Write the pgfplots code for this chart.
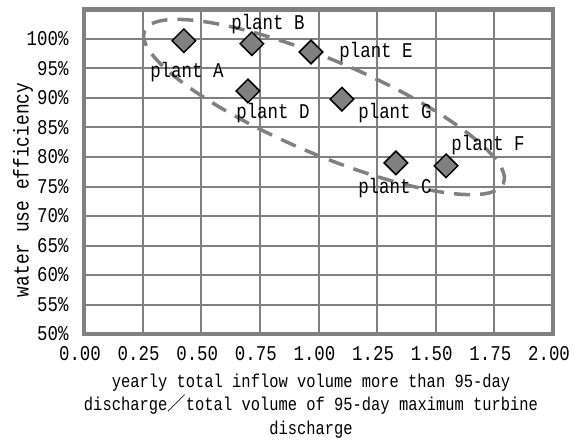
\documentclass[border=0pt]{standalone}
\usepackage{fontspec}
\setmainfont{Liberation Mono}[FakeStretch=0.83]
\newfontfamily\cjk{Noto Sans CJK JP}
\usepackage{pgfplots}
\pgfplotsset{compat=1.18}
\usepackage{pgfplotstable}
\definecolor{gridgray}{RGB}{128,128,128}
\definecolor{markgray}{RGB}{128,128,128}

\pgfplotstableread{
x     y     label      dx   dy
0.426 99.7  {plant A}  3    -31
0.716 99.2  {plant B}  16   20
0.699 91.2  {plant D}  25   -22
0.968 97.8  {plant E}  65   0
1.100 89.8  {plant G}  53   -14
1.330 79.0  {plant C}  -1   -25
1.544 78.5  {plant F}  42   21
}\plants

\begin{document}
\begin{tikzpicture}
\begin{axis}[
  scale only axis,
  width=469bp, height=324.5bp,
  xmin=0, xmax=2, ymin=50, ymax=105,
  xtick={0,0.25,...,2.0},
  ytick={50,55,...,100},
  /pgf/number format/assume math mode=true,
  xticklabel style={/pgf/number format/fixed, /pgf/number format/fixed zerofill, /pgf/number format/precision=2, yshift=-9bp, xshift=-4bp},
  yticklabel={\pgfmathprintnumber[fixed,precision=0]{\tick}\%},
  yticklabel style={xshift=-12bp},
  tick label style={font=\fontsize{21bp}{24bp}\selectfont},
  major tick length=0pt,
  grid=major,
  major grid style={draw=gridgray, line width=2bp},
  axis line style={draw=gridgray, line width=4.5bp},
  clip=false,
  xlabel={yearly total inflow volume more than 95-day\\discharge{\cjk ／}total volume of 95-day maximum turbine\\discharge},
  ylabel={water use efficiency},
  every axis x label/.style={at={(axis description cs:0.484,0)}, anchor=north, yshift=-36bp, align=center, font=\fontsize{18.6bp}{23.5bp}\selectfont},
  every axis y label/.style={at={(axis description cs:0,0.444)}, xshift=-61bp, rotate=90, anchor=center, font=\fontsize{21.5bp}{24bp}\selectfont},
]
\draw[draw=gridgray, line width=3.5bp, dash pattern=on 16bp off 10bp, rotate around={-23:(axis cs:1.0235,88.47)}]
  (axis cs:1.0235,88.47) ellipse [x radius=195bp, y radius=47bp];
\addplot[
  only marks,
  mark=square*,
  mark size=8.3bp,
  mark options={rotate=45, fill=markgray, draw=black, line width=1.5bp},
  point meta=explicit symbolic,
  nodes near coords,
  visualization depends on={\thisrow{dx} \as \labdx},
  visualization depends on={\thisrow{dy} \as \labdy},
  every node near coord/.append style={anchor=center, xshift=\labdx bp, yshift=\labdy bp, font=\fontsize{21bp}{24bp}\selectfont, inner sep=0pt},
] table[x=x, y=y, meta=label] {\plants};
\end{axis}
\path (current axis.south west) ++(-84bp,-107bp) coordinate (BL);
\path (current axis.north east) ++(22bp,9.5bp) coordinate (TR);
\pgfresetboundingbox
\path (BL) rectangle (TR);
\end{tikzpicture}
\end{document}
